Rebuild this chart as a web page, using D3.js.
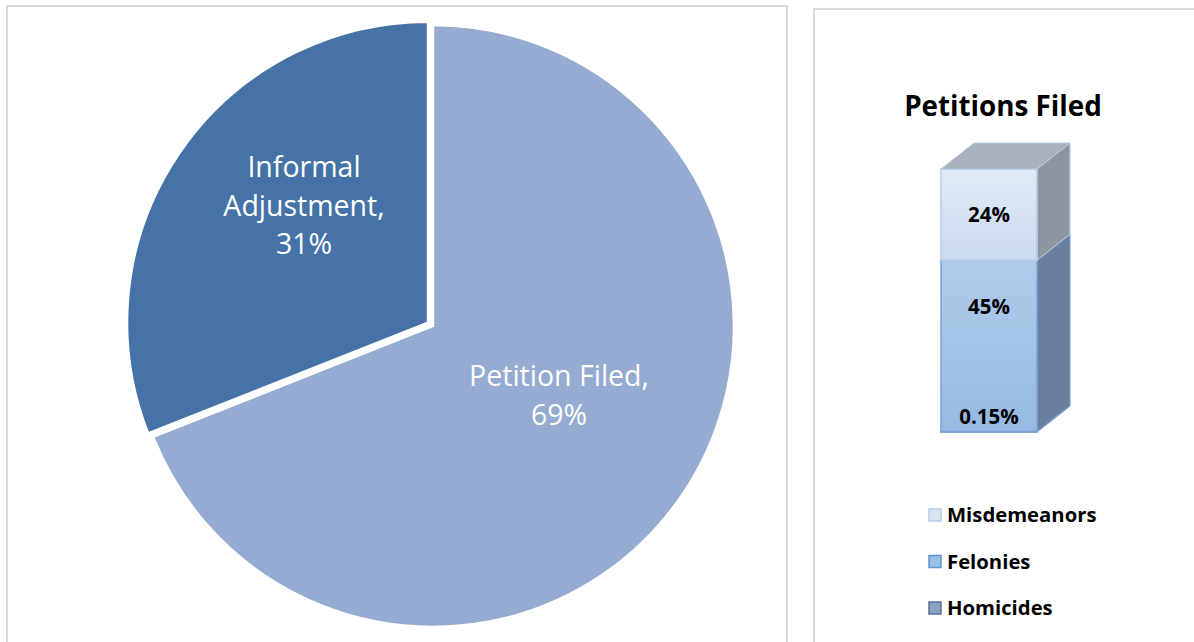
<!DOCTYPE html>
<html><head><meta charset="utf-8">
<script src="https://cdn.jsdelivr.net/npm/d3@7"></script>
<style>
body{margin:0;background:#fff;}
svg{display:block;font-family:"Open Sans",sans-serif;}
</style></head><body>
<svg id="c" width="1194" height="642"></svg>
<script>
// pie data
const pieLabels = ["Petition Filed", "Informal Adjustment"];
const pieValues = [69, 31];
const pieColors = ["#95abd1", "#4673a7"];
// stacked bar data
const barTitle = "Petitions Filed";
const stackCats = ["Homicides", "Felonies", "Misdemeanors"];
const stackValues = [0.15, 45, 24];
const stackText = ["0.15%", "45%", "24%"];
const legendOrder = ["Misdemeanors", "Felonies", "Homicides"];

const svg = d3.select("#c");
// panel borders
svg.append("path").attr("d","M7,642 V6 H787 V642").attr("fill","none").attr("stroke","#d9d9d9").attr("stroke-width",2);
svg.append("path").attr("d","M814,642 V9 H1194").attr("fill","none").attr("stroke","#d9d9d9").attr("stroke-width",2);

// pie
const cx = 433, cy = 326, R = 301;
const pie = d3.pie().sort(null).startAngle(0).endAngle(2*Math.PI);
const arcs = pie(pieValues);
const arc = d3.arc().innerRadius(0).outerRadius(R);
const explode = [0, 6];
const g = svg.append("g").attr("transform",`translate(${cx},${cy})`);
arcs.forEach((a,i)=>{
  const m = (a.startAngle+a.endAngle)/2;
  const dx = Math.sin(m)*explode[i], dy = -Math.cos(m)*explode[i];
  g.append("path").attr("d",arc(a)).attr("transform",`translate(${dx},${dy})`)
   .attr("fill",pieColors[i]).attr("stroke","#fff").attr("stroke-width",2.5);
});
// pie labels
const labelLines = [
  [pieLabels[0]+",", pieValues[0]+"%"],
  ["Informal", "Adjustment,", pieValues[1]+"%"]
];
const labelPos = [[559-cx, 376-cy], [304-cx, 167-cy]];
labelLines.forEach((lines,i)=>{
  const t = g.append("text").attr("fill","#fff").attr("font-size",28.5).attr("text-anchor","middle")
    .attr("x",labelPos[i][0]).attr("y",labelPos[i][1]+10);
  lines.forEach((l,j)=>t.append("tspan").attr("x",labelPos[i][0]).attr("dy",j?38.5:0).text(l));
});

// stacked 3D bar
svg.append("text").attr("x",1003).attr("y",116).attr("text-anchor","middle")
  .attr("font-size",27.8).attr("font-weight","bold").attr("fill","#000").text(barTitle);

const defs = svg.append("defs");
function grad(id, c1, c2){
  const lg = defs.append("linearGradient").attr("id",id).attr("x1",0).attr("y1",0).attr("x2",0).attr("y2",1);
  lg.append("stop").attr("offset","0%").attr("stop-color",c1);
  lg.append("stop").attr("offset","100%").attr("stop-color",c2);
}
grad("gM","#e1eaf6","#ccdaef");
grad("gF","#b1cbe9","#95bae4");
grad("gH","#8fb2de","#7fa4d6");
const frontFill = {Misdemeanors:"url(#gM)", Felonies:"url(#gF)", Homicides:"url(#gH)"};
const frontStroke = {Misdemeanors:"#b7cbe6", Felonies:"#78a3d8", Homicides:"#5d8cc8"};
const sideFill = {Misdemeanors:"#8d959f", Felonies:"#6a7f9b", Homicides:"#5a6f8c"};
const legendFill = {Misdemeanors:"#d9e4f3", Felonies:"#9cbfe6", Homicides:"#8aa3c2"};
const legendStroke = {Misdemeanors:"#b7cbe6", Felonies:"#5d95d2", Homicides:"#55729a"};

const total = d3.sum(stackValues);
const y = d3.scaleLinear().domain([0,total]).range([432,169]);
const x = d3.scaleBand().domain([barTitle]).range([941,1037]).padding(0);
const ddx = 33, ddy = -26;
const bx = x(barTitle), bw = x.bandwidth();
let cum = 0;
const segs = stackCats.map((c,i)=>{const s={cat:c,v:stackValues[i],y0:cum,y1:cum+stackValues[i],t:stackText[i]};cum+=stackValues[i];return s;});
const bar = svg.append("g");
segs.forEach(s=>{
  const yt = y(s.y1), yb = y(s.y0);
  bar.append("path").attr("d",`M${bx+bw},${yb} L${bx+bw+ddx},${yb+ddy} L${bx+bw+ddx},${yt+ddy} L${bx+bw},${yt} Z`)
    .attr("fill",sideFill[s.cat]).attr("stroke",frontStroke[s.cat]).attr("stroke-width",1);
  bar.append("rect").attr("x",bx).attr("y",yt).attr("width",bw).attr("height",Math.max(0,yb-yt))
    .attr("fill",frontFill[s.cat]).attr("stroke",frontStroke[s.cat]).attr("stroke-width",1.5);
});
const ytop = y(total);
bar.append("path").attr("d",`M${bx},${ytop} L${bx+ddx},${ytop+ddy} L${bx+bw+ddx},${ytop+ddy} L${bx+bw},${ytop} Z`)
  .attr("fill","#a9b1bb").attr("stroke","#b7cbe6").attr("stroke-width",1);
const labY = {Homicides:417, Felonies:307, Misdemeanors:215};
segs.forEach(s=>{
  bar.append("text").attr("x",bx+bw/2).attr("y",labY[s.cat]+7).attr("text-anchor","middle")
    .attr("font-size",20.5).attr("font-weight","bold").attr("fill","#000").text(s.t);
});

// legend
const leg = svg.append("g");
legendOrder.forEach((c,i)=>{
  const ly = 515 + i*46.5;
  leg.append("rect").attr("x",929).attr("y",ly-6).attr("width",12).attr("height",12)
    .attr("fill",legendFill[c]).attr("stroke",legendStroke[c]).attr("stroke-width",1.5);
  leg.append("text").attr("x",947).attr("y",ly+7).attr("font-size",20.3).attr("font-weight","bold").attr("fill","#000").text(c);
});
</script>
</body></html>
